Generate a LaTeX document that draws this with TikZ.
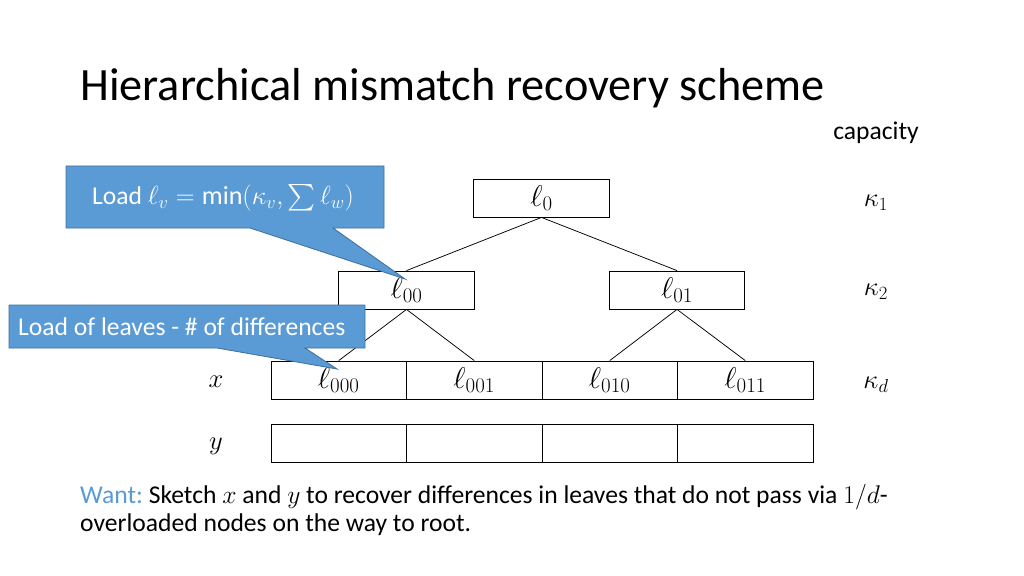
\RequirePackage{fix-cm}
\documentclass[tikz,border=0pt]{standalone}
\usepackage{exscale}
\usepackage{fontspec}
\setmainfont{Carlito}
\definecolor{callfill}{RGB}{91,155,213}
\definecolor{calldraw}{RGB}{65,113,156}
\definecolor{wantblue}{RGB}{91,155,213}
\begin{document}
\begin{tikzpicture}[x=0.9375pt,y=-0.9375pt,
  box/.style={draw=black, line width=0.8pt, inner sep=0pt, minimum width=127pt, minimum height=35.6pt, font=\fontsize{28}{30}\selectfont},
  edge/.style={draw=black, line width=0.7pt},
  callout/.style={fill=callfill, draw=calldraw, line width=0.8pt, line join=miter},
  calltext/.style={text=white, inner sep=0pt, font=\fontsize{24}{28}\selectfont},
  lab/.style={inner sep=0pt, font=\fontsize{24}{28}\selectfont},
  mlab/.style={inner sep=0pt, font=\fontsize{25}{28}\selectfont}]
\useasboundingbox (0,0) rectangle (1024,576);
\fill[white] (0,0) rectangle (1024,576);

% title
\node[anchor=base west, inner sep=0pt, font=\fontsize{43.4}{50}\selectfont] (title) at (80,101) {Hierarchical mismatch recovery scheme};
\node[lab] (cap) at (876,133) {capacity};

% tree
\node[box] (r) at (541.5,198) {$\ell_0$};
\node[box] (n00) at (406.5,290) {$\ell_{00}$};
\node[box] (n01) at (677,290) {$\ell_{01}$};
\node[box] (l0) at (338.75,380) {$\ell_{000}$};
\node[box] (l1) at (474.25,380) {$\ell_{001}$};
\node[box] (l2) at (609.75,380) {$\ell_{010}$};
\node[box] (l3) at (745.25,380) {$\ell_{011}$};
\node[box] (y0) at (338.75,443) {};
\node[box] (y1) at (474.25,443) {};
\node[box] (y2) at (609.75,443) {};
\node[box] (y3) at (745.25,443) {};

\draw[edge] (r.south) -- (n00.north);
\draw[edge] (r.south) -- (n01.north);
\draw[edge] (n00.south) -- (l0.north);
\draw[edge] (n00.south) -- (l1.north);
\draw[edge] (n01.south) -- (l2.north);
\draw[edge] (n01.south) -- (l3.north);

% row labels
\node[mlab] (xl) at (216,382) {$x$};
\node[mlab] (yl) at (216,446) {$y$};
\node[mlab] (k1) at (876,203) {$\kappa_1$};
\node[mlab] (k2) at (876,292) {$\kappa_2$};
\node[mlab] (kd) at (876,385) {$\kappa_d$};

% callout 1
\coordinate (t1) at (405,279);
\path[callout] (66,166) -- (384,166) -- (384,228) -- (333,228) -- (t1) -- (250,228) -- (66,228) -- cycle;
\node[calltext, anchor=west] (c1) at (92,198) {Load {\fontsize{24.5}{28}\selectfont$\ell_v=\min(\kappa_v,\sum\ell_w)$}};

% callout 2
\coordinate (t2) at (337,369);
\path[callout] (9,305) -- (365,305) -- (365,348) -- (305,348) -- (t2) -- (217,348) -- (9,348) -- cycle;
\node[calltext, anchor=west] (c2) at (18,327) {Load of leaves - \# of differences};

% bottom text
\node[anchor=base west, inner sep=0pt, font=\fontsize{24}{28}\selectfont] (want1) at (80,503)
  {\textcolor{wantblue}{Want:}~Sketch $x$ and $y$ to recover differences in leaves that do not pass via $1/d$-};
\node[anchor=base west, inner sep=0pt, font=\fontsize{24}{28}\selectfont] (want2) at (80,531)
  {overloaded nodes on the way to root.};
\end{tikzpicture}
\end{document}
